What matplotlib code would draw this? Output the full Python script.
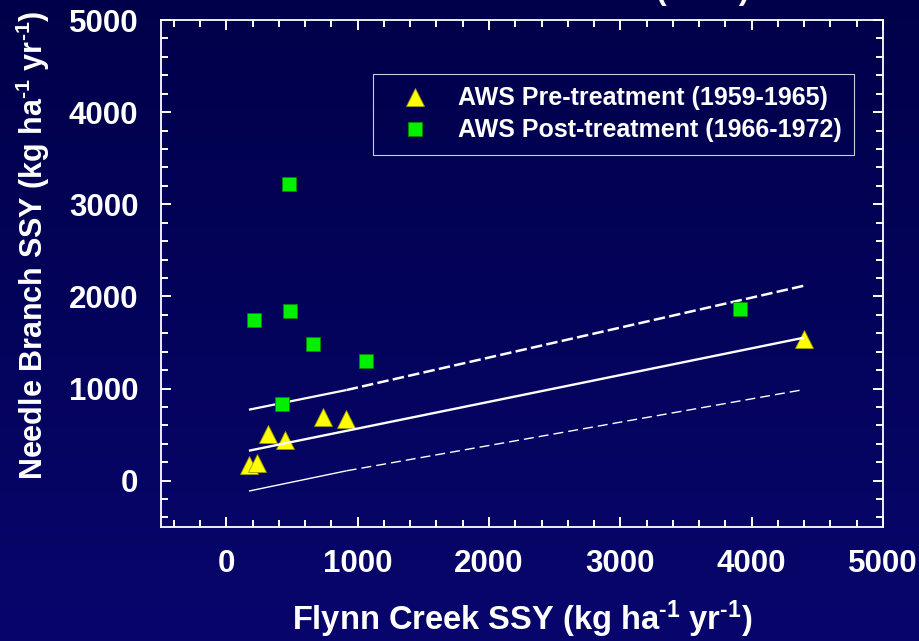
import numpy as np
import matplotlib
matplotlib.use('Agg')
import matplotlib.pyplot as plt
from matplotlib.ticker import FixedLocator, MultipleLocator
from matplotlib.colors import LinearSegmentedColormap

# ---------------- data ----------------
pre_x = [172, 231, 318, 449, 738, 913, 4401]
pre_y = [166, 194, 509, 437, 690, 665, 1532]
post_x = [208, 488, 661, 1065, 420, 475, 3908]
post_y = [1749, 1836, 1481, 1304, 832, 3215, 1860]

fit_x = [172, 916, 4399]
fit_y = [325, 541, 1552]
upper_x = [172, 916, 4399]
upper_y = [770, 984, 2116]
lower_x = [172, 916, 4380]
lower_y = [-113, 107, 984]

xticks = [0, 1000, 2000, 3000, 4000, 5000]
yticks = [0, 1000, 2000, 3000, 4000, 5000]
legend_labels = ['AWS Pre-treatment (1959-1965)', 'AWS Post-treatment (1966-1972)']
xlabel = 'Flynn Creek SSY (kg ha$^{\u20101}$ yr$^{\u20101}$)'
ylabel = 'Needle Branch SSY (kg ha$^{\u20101}$ yr$^{\u20101}$)'
title = '(AWS)'

# ---------------- style ----------------
plt.rcParams['font.family'] = ['Liberation Sans', 'DejaVu Sans']
plt.rcParams['font.weight'] = 'bold'
plt.rcParams['mathtext.default'] = 'regular'

W, H = 920, 641
fig = plt.figure(figsize=(W / 100, H / 100), dpi=100)

# gradient background
bg = fig.add_axes([0, 0, 1, 1], zorder=-10)
grad = np.linspace(0, 1, 256).reshape(-1, 1)
cmap = LinearSegmentedColormap.from_list('bg', ['#00004a', '#08066c'])
bg.imshow(grad, aspect='auto', cmap=cmap, extent=[0, 1, 0, 1], origin='upper')
bg.axis('off')

L, R, T, B = 160.7, 883.0, 20.0, 526.7
ax = fig.add_axes([L / W, 1 - B / H, (R - L) / W, (B - T) / H])
ax.set_facecolor('none')

ax.set_xlim(-500, 5000)
ax.set_ylim(-500, 5000)

for s in ax.spines.values():
    s.set_color('white')
    s.set_linewidth(1.3)

ax.xaxis.set_major_locator(FixedLocator(xticks))
ax.yaxis.set_major_locator(FixedLocator(yticks))
ax.xaxis.set_minor_locator(MultipleLocator(200))
ax.yaxis.set_minor_locator(MultipleLocator(200))
ax.tick_params(which='both', direction='in', top=True, right=True, colors='white',
               width=1.4)
ax.tick_params(which='major', length=7.4, pad=16, labelsize=22.5)
ax.tick_params(which='minor', length=5.0)
for lab in ax.get_xticklabels() + ax.get_yticklabels():
    lab.set_fontweight('bold')

# markers
h1, = ax.plot(pre_x, pre_y, linestyle='none', marker='^', markersize=12.5,
              markerfacecolor='#ffff00', markeredgecolor='#9a9a00',
              markeredgewidth=0.6, zorder=3)
h2, = ax.plot(post_x, post_y, linestyle='none', marker='s', markersize=10.5,
              markerfacecolor='#00f000', markeredgecolor='#008a00',
              markeredgewidth=0.6, zorder=5)

# regression & interval lines (solid first part, then dashed)
ax.plot(fit_x, fit_y, color='white', lw=1.7, solid_capstyle='butt', zorder=4)
ax.plot(upper_x[:2], upper_y[:2], color='white', lw=1.6, solid_capstyle='butt', zorder=4)
ax.plot(upper_x[1:], upper_y[1:], color='white', lw=1.8, dashes=(4.6, 1.7),
        dash_capstyle='butt', zorder=4)
ax.plot(lower_x[:2], lower_y[:2], color='white', lw=1.0, solid_capstyle='butt', zorder=4)
ax.plot(lower_x[1:], lower_y[1:], color='white', lw=1.0, dashes=(7.2, 3.6),
        dash_capstyle='butt', zorder=4)

# legend
leg = ax.legend([h1, h2], legend_labels, loc='upper left',
                bbox_to_anchor=(373 / W, 1 - 74 / H), bbox_transform=fig.transFigure,
                borderaxespad=0, fontsize=18, frameon=True, fancybox=False,
                facecolor='none', edgecolor='white', borderpad=0.5,
                handlelength=2.4, handletextpad=0.5, labelspacing=0.32)
leg.get_frame().set_linewidth(0.8)
for t in leg.get_texts():
    t.set_color('white')
    t.set_fontweight('bold')

# axis labels
ax.set_xlabel(xlabel, fontsize=23.5, color='white', fontweight='bold')
ax.xaxis.set_label_coords(0.5, (B - 599) / (B - T))
ax.set_ylabel(ylabel, fontsize=22, color='white', fontweight='bold')
ax.yaxis.set_label_coords((52 - L) / (R - L), (B - 245) / (B - T))

# title (mostly outside the picture, as in the reference)
fig.text(703 / W, 1 + 0.5 / H, title, ha='center', va='baseline', fontsize=23,
         color='white', fontweight='bold')

fig.savefig('out.png', dpi=100)
